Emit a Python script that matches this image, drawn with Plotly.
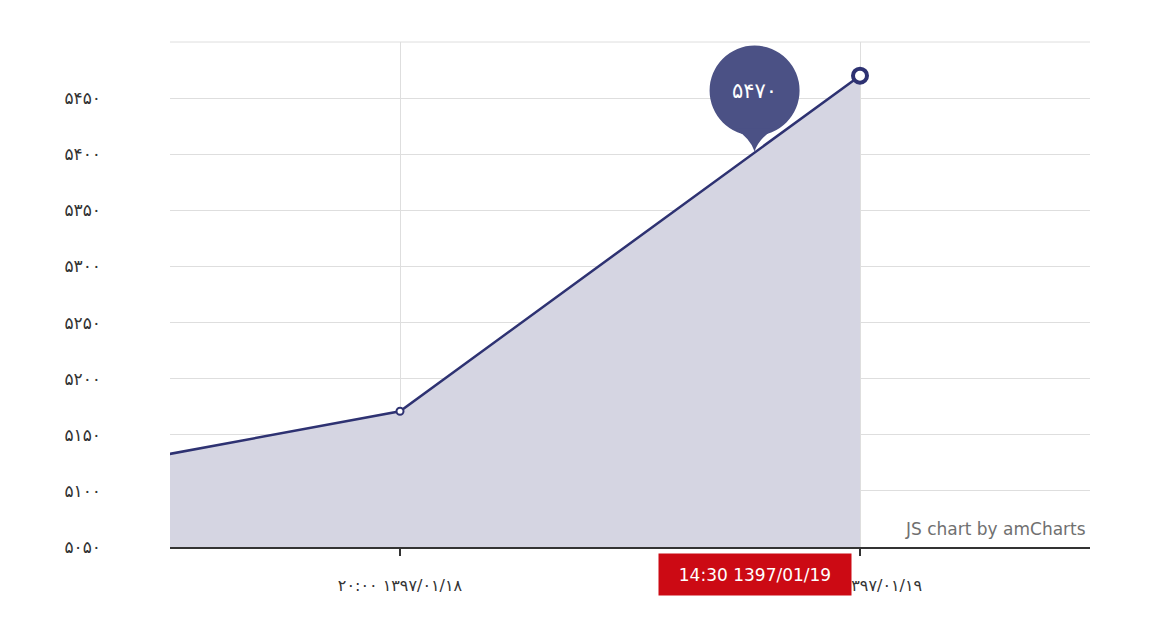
import numpy as np
import pandas as pd
import plotly.graph_objects as go

# data: 1397/01/17 20:00, 1397/01/18 20:00, 1397/01/19 20:00 (gregorian equivalents)
times = ["2018-04-06 20:00", "2018-04-07 20:00", "2018-04-08 20:00"]
values = [5095, 5171, 5470]

x_range = ["2018-04-07 08:00", "2018-04-09 08:00"]
x_tickvals = ["2018-04-07 20:00", "2018-04-08 20:00"]
x_ticktext = ["۲۰:۰۰ ۱۳۹۷/۰۱/۱۸", "۲۰:۰۰ ۱۳۹۷/۰۱/۱۹"]

y_tickvals = [5050, 5100, 5150, 5200, 5250, 5300, 5350, 5400, 5450, 5500]
y_ticktext = ["۵۰۵۰", "۵۱۰۰", "۵۱۵۰", "۵۲۰۰", "۵۲۵۰", "۵۳۰۰", "۵۳۵۰", "۵۴۰۰", "۵۴۵۰", ""]

cursor_time = "2018-04-08 14:30"
cursor_label = "14:30 1397/01/19"
balloon_text = "۵۴۷۰"

LINE = "#2e3272"
FILL = "#d5d5e2"
BALLOON = "#4b5185"
RED = "#cc0a14"
GRID = "#dedede"
FONT = "Tahoma, DejaVu Sans, sans-serif"

# value of the line under the cursor
ts = np.array([pd.Timestamp(t).value for t in times], dtype=float)
cursor_val = float(np.interp(pd.Timestamp(cursor_time).value, ts, values))

fig = go.Figure()
fig.add_trace(go.Scatter(
    x=times, y=values,
    mode="lines+markers",
    fill="tozeroy",
    fillcolor=FILL,
    line=dict(color=LINE, width=2.5),
    marker=dict(size=[0, 7, 14], color="white", opacity=1,
                line=dict(color=LINE, width=[0, 2, 4])),
    hoverinfo="skip",
    showlegend=False,
))

# top grid line (plotly skips the gridline at the range edge)
fig.add_shape(type="line", xref="x domain", yref="y domain",
              x0=0, x1=1, y0=1, y1=1,
              line=dict(color=GRID, width=1), layer="below")

# balloon
fig.add_shape(type="circle", xref="x", yref="y",
              xsizemode="pixel", ysizemode="pixel",
              xanchor=cursor_time, yanchor=cursor_val,
              x0=-45, x1=45, y0=17, y1=107,
              fillcolor=BALLOON, line=dict(width=0), layer="above")
fig.add_shape(type="path", xref="x", yref="y",
              xsizemode="pixel", ysizemode="pixel",
              xanchor=cursor_time, yanchor=cursor_val,
              path="M 0,1 Q 4,14 20,24 L -20,24 Q -4,14 0,1 Z",
              fillcolor=BALLOON, line=dict(width=0), layer="above")
fig.add_annotation(x=cursor_time, y=cursor_val, yshift=62,
                   text=balloon_text, showarrow=False,
                   font=dict(color="white", size=21, family=FONT))

# cursor label
fig.add_shape(type="path", xref="x", yref="y",
              xsizemode="pixel", ysizemode="pixel",
              xanchor=cursor_time, yanchor=y_tickvals[0],
              path="M -7,-9 L 0,0 L 7,-9 Z",
              fillcolor=RED, line=dict(width=0), layer="above")
fig.add_annotation(x=cursor_time, y=y_tickvals[0], yanchor="top", yshift=-6,
                   text=cursor_label, showarrow=False,
                   width=192, height=41, borderpad=0, bgcolor=RED,
                   font=dict(color="white", size=17, family=FONT))

# watermark
fig.add_annotation(xref="paper", yref="paper", x=1, y=0,
                   xanchor="right", yanchor="bottom", xshift=-2, yshift=6,
                   text="JS chart by amCharts", showarrow=False,
                   font=dict(color="#707070", size=17, family=FONT))

fig.update_xaxes(
    type="date", range=x_range,
    tickvals=x_tickvals, ticktext=x_ticktext,
    showgrid=True, gridcolor=GRID, gridwidth=1,
    showline=True, linecolor="#333333", linewidth=2,
    ticks="outside", ticklen=7, tickwidth=2, tickcolor="#333333",
    ticklabelstandoff=16,
    tickfont=dict(size=16, color="#333333", family=FONT),
    zeroline=False,
)
fig.update_yaxes(
    range=[5050, 5500],
    tickvals=y_tickvals, ticktext=y_ticktext,
    showgrid=True, gridcolor=GRID, gridwidth=1,
    showline=False, zeroline=False, ticks="",
    ticklabelstandoff=68,
    tickfont=dict(size=17, color="#333333", family=FONT),
)
# page body adds 8px offset, so the figure is sized to sit inside the window
fig.update_layout(
    width=1156, height=608,
    margin=dict(l=162, r=74, t=34, b=69),
    plot_bgcolor="white", paper_bgcolor="white",
    hovermode=False,
)

fig.write_html("out.html")
